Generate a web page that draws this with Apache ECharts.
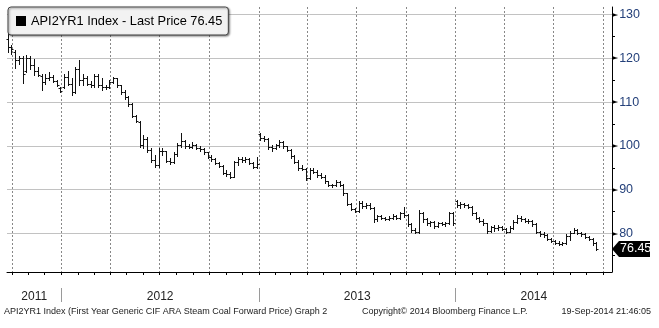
<!DOCTYPE html>
<html>
<head>
<meta charset="utf-8">
<script src="https://cdn.jsdelivr.net/npm/echarts@6/dist/echarts.min.js"></script>
<style>
  html, body { margin: 0; padding: 0; background: #fff; }
  #chart { width: 659px; height: 328px; }
</style>
</head>
<body>
<div id="chart"></div>
<script>
// API2 first-year generic coal forward, weekly OHLC bars (week ending Friday)
const seriesName = 'API2YR1 Index';
const firstWeekEnd = '2011-09-23';

const weekOpen = [
  124.5,122.5,121.5,119.5,120,117,120,118.5,117,116,114.5,115.5,115.8,114.8,113.2,
  113.5,115.8,114.2,112.2,117.5,115,115.5,114.2,113.8,116,114,113.5,113.4,114.6,115.4,
  113.8,112.2,111.2,109.6,106.8,105.4,100.2,101.5,99,96.8,95.6,98.8,98.8,96.6,96.2,
  98.2,100.2,101.2,99.9,99.8,100.3,99.6,99.2,98.5,97.5,97,96.1,95.4,93.9,93.6,
  93,96.2,97,96.8,97.1,96.1,95.2,
  102.8,101.9,101.5,99.8,99.4,100.1,100.8,99.9,99.1,97.6,96.4,95,94.8,92.6,94.5,
  94.1,93.3,92.9,91.9,91,91.1,91.8,91.1,89.2,86.8,85.6,85.2,87,86.2,86.6,
  85.8,83.2,83.9,83.5,83.3,83.6,84,83.5,84.6,84.2,82.2,80.8,80.4,84.6,83.4,
  82.4,82.6,81.6,82.3,82.2,82.4,84.6,
  87.5,86.4,86.8,86.4,86.1,84.6,83.6,82.9,82.4,80.6,81.4,81.2,81.5,81.1,80.4,
  81.2,82.6,83.6,83.2,82.9,82.8,82.1,80.4,79.8,79.6,78.8,78.3,77.9,77.6,77.8,
  79.4,80.2,80.8,80.2,79.8,79.2,78.7,77.8
];
const weekHigh = [
  125.5,123,121.8,120.5,120.5,120.8,120.6,119.8,118,116.3,116.5,116.8,116.2,115,113.5,
  116.5,117,115.5,118,119.6,116.5,116,114.8,116.5,116.3,115.5,114,115,115.8,115.5,
  114,112.8,111.4,109.8,107,105.6,102.4,102,99.5,97.8,99.4,99.6,98.9,97.2,98.6,
  100.6,103,101.4,100.4,100.8,100.5,100,99.6,98.7,97.9,97.3,96.4,95.6,94.6,94,
  96.6,97.4,97.4,97.4,97.3,96.2,97.4,
  103,102.2,101.7,100.2,100.4,101.3,101,100,99.3,97.8,96.8,95.6,95,94.9,95,
  94.6,93.9,93.3,92,91.4,92.1,92,91.2,89.3,87,85.8,87.4,87.4,87,86.9,
  86,84.2,84.3,83.8,83.9,84.4,84.2,85,86,84.4,82.4,81.2,85.3,84.8,83.6,
  82.8,82.8,82.6,82.7,82.6,85,84.8,
  87.7,87.2,87,86.8,86.3,84.8,83.8,83.2,82.5,81.8,82,81.9,81.8,81.3,81.6,
  83,84.1,83.9,83.6,83.2,83.1,82.3,80.6,80.4,79.8,79,78.6,78.2,78.1,79.8,
  80.6,81.2,81,80.4,80,79.4,78.9,78
];
const weekLow = [
  121.5,121,117.8,118.8,114.3,116.8,117.5,116.2,116,112.8,114.2,115,114.5,113.6,112.2,
  113.2,114,111.6,112,113.8,114,113.8,113.4,113.4,113.5,112.7,113,113.2,114.4,113.4,
  111.8,110.8,109.2,106.6,105.4,99.8,99.6,98.6,96.2,95.1,95.2,97.8,96.2,95.8,96,
  97.6,99.8,99.6,99.5,99.4,99.3,98.8,98.2,97.2,96.6,95.8,95.2,93.6,93.2,92.6,
  92.8,95.6,96.2,96.3,95.8,94.9,94.9,
  101.4,101.2,99.3,98.9,99.2,99.7,99.6,98.8,97.2,96.1,94.6,94.4,92.1,92.4,93.8,
  93,92.6,91.6,90.8,90.6,90.8,90.8,88.8,86.4,85.3,84.9,85,85.8,85.9,85.5,
  82.6,82.8,83.2,83,83.1,83.4,83.2,83.4,83.7,81.8,80.4,80,80.2,82.6,82,
  81.8,81.2,81.5,81.9,81.8,82.2,82,
  86.1,85.9,86.1,85.9,84.2,83.3,82.6,82,80.2,80.4,80.6,80.8,80.8,80.1,80.3,
  81,82.4,82.8,82.6,82.4,81.8,80,79.4,79.2,78.4,78,77.6,77.3,77.3,77.6,
  78.6,80,79.9,79.5,78.9,78.4,77.4,76.2
];
const weekClose = [
  122.5,122,119.5,120,116.5,120,118.5,117,116.2,114.5,115.5,115.8,114.8,113.8,112.5,
  115.8,114.2,112.2,117.5,115,115.5,114.2,113.8,116,114,113.5,113.4,114.6,115.4,113.8,
  112.2,111.2,109.6,106.8,105.6,100.2,101.5,99,96.8,95.6,98.8,98.8,96.6,96.2,98.2,
  100.2,101.2,99.9,99.8,100.3,99.6,99.2,98.5,97.5,97,96.1,95.4,93.9,93.6,93,
  96.2,97,96.8,97.1,96.1,95.2,95.8,
  101.9,101.5,99.8,99.4,100.1,100.8,99.9,99.1,97.6,96.4,95,94.8,92.6,94.5,94.1,
  93.3,92.9,91.9,91,91.1,91.8,91.1,89.2,86.8,85.6,85.2,87,86.2,86.6,85.8,
  83.2,83.9,83.5,83.3,83.6,84,83.5,84.6,84.2,82.2,80.8,80.4,84.6,83.4,82.4,
  82.6,81.6,82.3,82.2,82.4,84.6,82.3,
  86.4,86.8,86.4,86.1,84.6,83.6,82.9,82.4,80.6,81.4,81.2,81.5,81.1,80.4,81.2,
  82.6,83.6,83.2,82.9,82.8,82.1,80.4,79.8,79.6,78.8,78.3,77.9,77.6,77.8,79.4,
  80.2,80.8,80.2,79.8,79.2,78.7,77.8,76.45
];

// Axis labelling
const yMajorTicks = [80, 90, 100, 110, 120, 130];
const yMinorTicks = [75, 85, 95, 105, 115, 125];
const yearLabels = ['2011', '2012', '2013', '2014'];
const footerLeft = 'API2YR1 Index (First Year Generic CIF ARA Steam Coal Forward Price) Graph 2';
const footerMid = 'Copyright\u00A9 2014 Bloomberg Finance L.P.';
const footerRight = '19-Sep-2014 21:46:05';

// x values are day numbers counted from 1 Jan 2011
const EPOCH = Date.UTC(2011, 0, 1);
function dayIndex(iso) {
  const [y, m, d] = iso.split('-').map(Number);
  return (Date.UTC(y, m - 1, d) - EPOCH) / 86400000;
}
const xMin = dayIndex('2011-09-22');
const xMax = dayIndex('2014-10-18');
const yMin = 71.2, yMax = 131.7;

const monthStarts = [], quarterStarts = [];
for (let y = 2011; y <= 2014; y++) {
  for (let m = 1; m <= 12; m++) {
    const d = dayIndex(y + '-' + String(m).padStart(2, '0') + '-01');
    if (d < xMin || d > xMax) continue;
    monthStarts.push(d);
    if ((m - 1) % 3 === 0) quarterStarts.push(d);
  }
}
const yearStarts = yearLabels.slice(1).map(y => dayIndex(y + '-01-01'));
const yearMids = yearLabels.map(y => {
  const a = Math.max(xMin, dayIndex(y + '-01-01'));
  const b = Math.min(xMax, dayIndex((+y + 1) + '-01-01'));
  return (a + b) / 2;
});
function yearLabelFor(v) {
  let best = 0;
  yearMids.forEach((m, i) => { if (Math.abs(m - v) < Math.abs(yearMids[best] - v)) best = i; });
  return yearLabels[best];
}

const weekStart = dayIndex(firstWeekEnd);
const ohlcRows = weekClose.map((c, i) => [weekStart + 7 * i, weekOpen[i], weekHigh[i], weekLow[i], c]);
const lastIndex = ohlcRows.length - 1;
const lastPrice = weekClose[lastIndex];

const FONT = 'Liberation Sans';
const GRID_COLOR = '#888';

// One OHLC bar: high-low stem, open tick on the left, close tick on the right
function renderBar(params, api) {
  const x = api.value(0);
  const pO = api.coord([x, api.value(1)]);
  const pH = api.coord([x, api.value(2)]);
  const pL = api.coord([x, api.value(3)]);
  const pC = api.coord([x, api.value(4)]);
  const cx = Math.round(pO[0]) + 0.5;
  const yo = Math.round(pO[1]) + 0.5;
  const yc = Math.round(pC[1]) + 0.5;
  const style = { stroke: '#111', lineWidth: 1 };
  const children = [
    { type: 'line', shape: { x1: cx, y1: Math.round(pH[1]), x2: cx, y2: Math.round(pL[1]) + 1 }, style },
    { type: 'line', shape: { x1: cx - 2, y1: yo, x2: cx, y2: yo }, style },
    { type: 'line', shape: { x1: cx, y1: yc, x2: cx + 2, y2: yc }, style }
  ];
  if (params.dataIndex === lastIndex) {
    // last-price tag hanging off the price axis
    const xr = params.coordSys.x + params.coordSys.width;
    const y = pC[1];
    children.push({
      type: 'polygon',
      shape: { points: [[xr, y], [xr + 7, y - 8], [xr + 38, y - 8], [xr + 38, y + 8], [xr + 7, y + 8]] },
      style: { fill: '#000' }
    });
    children.push({
      type: 'text', x: xr + 8, y: y,
      style: { text: api.value(4).toFixed(2), fill: '#fff', font: '12.5px "' + FONT + '"', align: 'left', verticalAlign: 'middle' }
    });
  }
  return { type: 'group', children };
}

const footerStyle = { fontSize: 9, fontWeight: 'normal', color: '#222', fontFamily: FONT };

const option = {
  animation: false,
  backgroundColor: '#fff',
  grid: { left: 7, right: 47, top: 7, bottom: 56, containLabel: false },
  legend: {
    show: true, left: 8, top: 7, selectedMode: false,
    data: [{ name: seriesName, icon: 'rect' }],
    itemWidth: 10, itemHeight: 10,
    padding: [6, 6, 6, 8],
    backgroundColor: '#f2f2f2', borderColor: '#444', borderWidth: 1, borderRadius: 3,
    shadowColor: 'rgba(0,0,0,0.45)', shadowBlur: 2, shadowOffsetX: 1, shadowOffsetY: 1,
    formatter: n => n + ' - Last Price ' + lastPrice.toFixed(2),
    textStyle: { fontSize: 12.8, color: '#000', fontFamily: FONT, lineHeight: 16 }
  },
  title: [
    { text: footerLeft, left: 4, top: 307, padding: 0, textStyle: footerStyle },
    { text: footerMid, left: 362, top: 307, padding: 0, textStyle: footerStyle },
    { text: footerRight, right: 8, top: 307, padding: 0, textStyle: footerStyle }
  ],
  xAxis: [
    {
      type: 'value', min: xMin, max: xMax, position: 'bottom',
      axisLine: { show: true, lineStyle: { color: '#000', width: 1 } },
      axisTick: { show: true, customValues: monthStarts, length: 3, inside: false, lineStyle: { color: '#000' } },
      axisLabel: { show: false }, splitLine: { show: false }
    },
    {
      // quarterly dotted grid
      type: 'value', min: xMin, max: xMax, position: 'bottom',
      axisLine: { show: false },
      axisTick: { show: false, customValues: quarterStarts },
      axisLabel: { show: false },
      splitLine: { show: true, lineStyle: { color: GRID_COLOR, width: 1, type: [2, 2] } }
    },
    {
      // year separators and year names
      type: 'value', min: xMin, max: xMax, position: 'bottom', offset: 16,
      axisLine: { show: false },
      axisTick: { show: true, customValues: yearStarts, length: 14, lineStyle: { color: '#9a9a9a' } },
      axisLabel: {
        show: true, customValues: yearMids, formatter: yearLabelFor, margin: 3,
        color: '#222', fontSize: 12, fontFamily: FONT
      },
      splitLine: { show: false }
    }
  ],
  yAxis: [
    {
      // price axis with pointer labels; its major ticks also carry the horizontal grid
      type: 'value', position: 'right', min: yMin, max: yMax,
      axisLine: { show: true, lineStyle: { color: '#000', width: 1 } },
      axisTick: { show: true, customValues: yMajorTicks, length: 3, inside: false, lineStyle: { color: '#000' } },
      axisLabel: {
        show: true, customValues: yMajorTicks, margin: 0,
        formatter: v => '{t|\u25BA}{v|' + v + '}',
        rich: {
          t: { fontSize: 8, color: '#000', fontFamily: 'DejaVu Sans', padding: [0, 1, 0, 0] },
          v: { fontSize: 12.5, color: '#24407a', fontFamily: FONT }
        }
      },
      splitLine: { show: true, lineStyle: { color: '#c2c2c2', width: 1, type: 'solid' } }
    },
    {
      // minor ticks at the fives
      type: 'value', position: 'right', min: yMin, max: yMax,
      axisLine: { show: false },
      axisTick: { show: true, customValues: yMinorTicks, length: 3, inside: false, lineStyle: { color: '#000' } },
      axisLabel: { show: false }, splitLine: { show: false }
    }
  ],
  series: [
    {
      type: 'custom', name: seriesName, xAxisIndex: 0, yAxisIndex: 0,
      data: ohlcRows, encode: { x: 0, y: [1, 2, 3, 4] },
      itemStyle: { color: '#000' },
      renderItem: renderBar, clip: false, silent: true, z: 3
    }
  ]
};

const chart = echarts.init(document.getElementById('chart'), null, { renderer: 'canvas' });
chart.setOption(option);
</script>
</body>
</html>
